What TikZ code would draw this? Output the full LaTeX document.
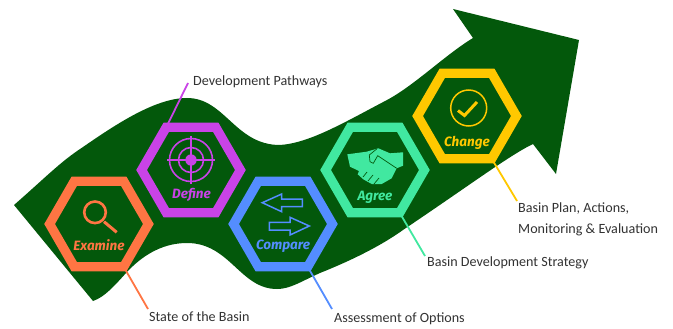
\documentclass[tikz,border=0pt]{standalone}
\usepackage{fontspec}
\setmainfont{Carlito}
\newfontfamily\handfont{Fira Sans}
\usetikzlibrary{shapes.geometric}
\definecolor{arrowgreen}{RGB}{3,88,11}
\definecolor{examinecol}{RGB}{255,117,67}
\definecolor{definecol}{RGB}{201,67,231}
\definecolor{comparecol}{RGB}{84,141,255}
\definecolor{agreecol}{RGB}{65,232,160}
\definecolor{changecol}{RGB}{255,200,0}
\definecolor{labelgrey}{RGB}{50,50,50}
\tikzset{
  hexring/.style={regular polygon,regular polygon sides=6,draw,line width=9.3pt,
    minimum size=98.8pt,inner sep=0pt,outer sep=0pt},
  hexname/.style={font=\handfont\bfseries\itshape\fontsize{13.5}{13.5}\selectfont,inner sep=0pt},
  basinlabel/.style={font=\fontsize{14.1}{21.5}\selectfont,text=labelgrey,anchor=west,inner sep=0pt,align=left},
  leader/.style={line width=1.8pt}
}
\begin{document}
\begin{tikzpicture}[x=1pt,y=-1pt]
  \useasboundingbox (0,0) rectangle (673,329);

  % big arrow
  \fill[arrowgreen] (14,205) .. controls (45,178) and (60,162) .. (83,147)
    .. controls (115,125) and (155,98) .. (187,98)
    .. controls (225,98) and (235,145) .. (280,145)
    .. controls (310,143) and (345,122) .. (387,100)
    .. controls (415,85) and (445,55) .. (473,38)
    -- (453,9) -- (579,40) -- (556,174) -- (533,144)
    .. controls (510,155) and (470,185) .. (403,230)
    .. controls (375,250) and (340,265) .. (320,273)
    .. controls (300,282) and (290,289) .. (277,289)
    .. controls (240,289) and (230,243) .. (187,243)
    .. controls (160,243) and (140,258) .. (127,272)
    .. controls (115,285) and (105,297) .. (93,301)
    -- cycle;

  % hexagons
  \node[hexring,draw=examinecol] (examine) at (99,224) {};
  \node[hexring,draw=definecol] (define) at (191,170) {};
  \node[hexring,draw=comparecol] (compare) at (283,224) {};
  \node[hexring,draw=agreecol] (agree) at (375,170) {};
  \node[hexring,draw=changecol] (change) at (467,116) {};

  % names in the hexagons
  \node[hexname,text=examinecol] (examinename) at (99,245.5) {Examine};
  \node[hexname,text=definecol] (definename) at (191.5,195) {Define};
  \node[hexname,text=comparecol] (comparename) at (283,246) {Compare};
  \node[hexname,text=agreecol] (agreename) at (375,197) {Agree};
  \node[hexname,text=changecol] (changename) at (467,143) {Change};

  % labels and leaders
  \node[basinlabel] (examinelabel) at (149,317) {State of the Basin};
  \node[basinlabel] (definelabel) at (193,82) {Development Pathways};
  \node[basinlabel] (comparelabel) at (334,319) {Assessment of Options};
  \node[basinlabel] (agreelabel) at (427,263) {Basin Development Strategy};
  \node[basinlabel] (changelabel) at (518,219.5) {Basin Plan, Actions,\\Monitoring \& Evaluation};
  \coordinate (examineend) at (148,309);
  \coordinate (defineend) at (188,83);
  \coordinate (compareend) at (332,309);
  \coordinate (agreeend) at (425,256);
  \coordinate (changeend) at (517,201);
  \draw[leader,examinecol] (examine.-60) -- (examineend);
  \draw[leader,definecol] (define.120) -- (defineend);
  \draw[leader,comparecol] (compare.-60) -- (compareend);
  \draw[leader,agreecol] (agree.-60) -- (agreeend);
  \draw[leader,changecol] (change.-60) -- (changeend);

  % magnifier
  \begin{scope}[shift={(examine.center)}]
    \draw[examinecol,line width=2.6pt] (-4,-11.7) circle (10.8);
    \draw[examinecol,line width=3pt] (5,-2.3) -- (17.7,8.3);
  \end{scope}

  % target
  \begin{scope}[shift={(define.center)},definecol]
    \fill (0,-10) circle (5.7);
    \draw[line width=1.6pt] (0,-10) circle (12.5);
    \draw[line width=1.6pt] (0,-10) circle (21.5);
    \draw[line width=1.1pt] (-24,-10) -- (24,-10);
    \draw[line width=1.1pt] (0,-34) -- (0,14);
  \end{scope}

  % two arrows
  \begin{scope}[shift={(compare.center)},comparecol,line width=1.5pt,line join=miter]
    \draw (-20.7,-21.3) -- (-1.3,-30) -- (-1.3,-25) -- (19.3,-25) -- (19.3,-17.3)
      -- (-1.3,-17.3) -- (-1.3,-12.3) -- cycle;
    \draw (26.3,2) -- (7,-6.7) -- (7,-1.7) -- (-13.7,-1.7) -- (-13.7,6) -- (7,6) -- (7,11) -- cycle;
  \end{scope}

  % handshake
  \begin{scope}[shift={(agree.center)}]
    \fill[agreecol] (-27.7,-15.7) -- (-8.3,-18.3) -- (3.3,-21.7) -- (15,-16.7) -- (28,-17.7)
      -- (28,-4.3) -- (21.7,-1.7) -- (16.7,8.3) -- (6.7,14) -- (-3.3,14) -- (-11.7,9.3)
      -- (-17.3,4.3) -- (-16,1) -- (-25,-3.3) -- cycle;
    \draw[arrowgreen,line width=0.7pt] (1.7,-21) -- (-5.7,-15) -- (-5,-8.3) -- (-1.7,-6.7)
      -- (2.7,-14.3) -- (21.7,-1.7);
    \draw[arrowgreen,line width=0.7pt] (-12,7) -- (-8,2) (-7,11) -- (-2,5) (-1,14) -- (4,8);
  \end{scope}

  % check mark
  \begin{scope}[shift={(change.center)},changecol]
    \draw[line width=1.5pt] (1.7,-8) circle (18);
    \draw[line width=3pt] (-9,-5.5) -- (-2.5,-0.5) -- (10,-14);
  \end{scope}
\end{tikzpicture}
\end{document}
